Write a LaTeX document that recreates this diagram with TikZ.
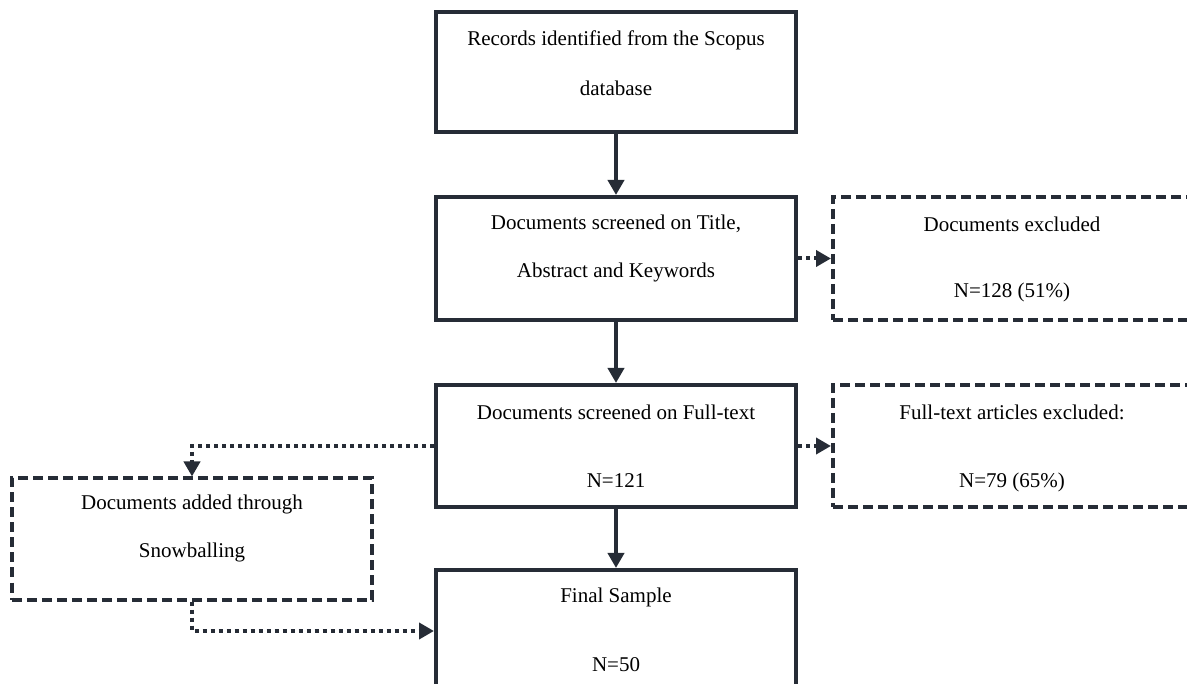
\documentclass[tikz,border=0pt]{standalone}
\usepackage{fontspec}
\setmainfont{Liberation Serif}
\usetikzlibrary{arrows.meta}
\definecolor{ink}{HTML}{262C36}
\begin{document}
\begin{tikzpicture}[x=1pt,y=-1pt,
  box/.style={draw=ink,line width=4pt,minimum width=360pt,inner sep=0pt,anchor=center},
  dbox/.style={box,dash pattern=on 10pt off 5pt},
  txt/.style={font=\fontsize{21}{25}\selectfont,text=black,inner sep=0pt},
  solidarrow/.style={draw=ink,line width=4pt,-{Triangle[length=15pt,width=16pt]}},
  dotarrow/.style={draw=ink,line width=4pt,dash pattern=on 4pt off 4pt,-{Triangle[length=15pt,width=16pt]}}]
\useasboundingbox (0,0) rectangle (1187,684);
\begin{scope}
\clip (0,0) rectangle (1187,684);
\node[box,minimum height=120pt] (b1) at (616,72) {};
\node[box,minimum height=123pt] (b2) at (616,258.5) {};
\node[box,minimum height=122pt] (b3) at (616,446) {};
\node[box,minimum height=122pt] (b4) at (616,631) {};
\node[dbox,minimum height=123pt] (e1) at (1013,258.5) {};
\node[dbox,minimum height=122pt] (e2) at (1013,446) {};
\node[dbox,minimum height=121pt] (sb) at (192,539) {};

\node[txt] (t1a) at (616,40) {Records identified from the Scopus};
\node[txt] (t1b) at (616,88) {database};
\node[txt] (t2a) at (616,224) {Documents screened on Title,};
\node[txt] (t2b) at (616,272) {Abstract and Keywords};
\node[txt] (t3a) at (616,412) {Documents screened on Full-text};
\node[txt] (t3b) at (616,481) {N=121};
\node[txt] (t4a) at (616,597) {Final Sample};
\node[txt] (t4b) at (616,665) {N=50};
\node[txt] (e1a) at (1012,224) {Documents excluded};
\node[txt] (e1b) at (1012,292) {N=128 (51\%)};
\node[txt] (e2a) at (1012,412) {Full-text articles excluded:};
\node[txt] (e2b) at (1012,482) {N=79 (65\%)};
\node[txt] (sba) at (192,504) {Documents added through};
\node[txt] (sbb) at (192,552) {Snowballing};

\draw[solidarrow] (b1.south) -- (b2.north);
\draw[solidarrow] (b2.south) -- (b3.north);
\draw[solidarrow] (b3.south) -- (b4.north);
\draw[dotarrow] (b2.east) -- (e1.west);
\draw[dotarrow] (b3.east) -- (e2.west);
\draw[dotarrow] (b3.west) -| (sb.north);
\draw[dotarrow] (sb.south) |- (b4.west);
\end{scope}
\end{tikzpicture}
\end{document}
